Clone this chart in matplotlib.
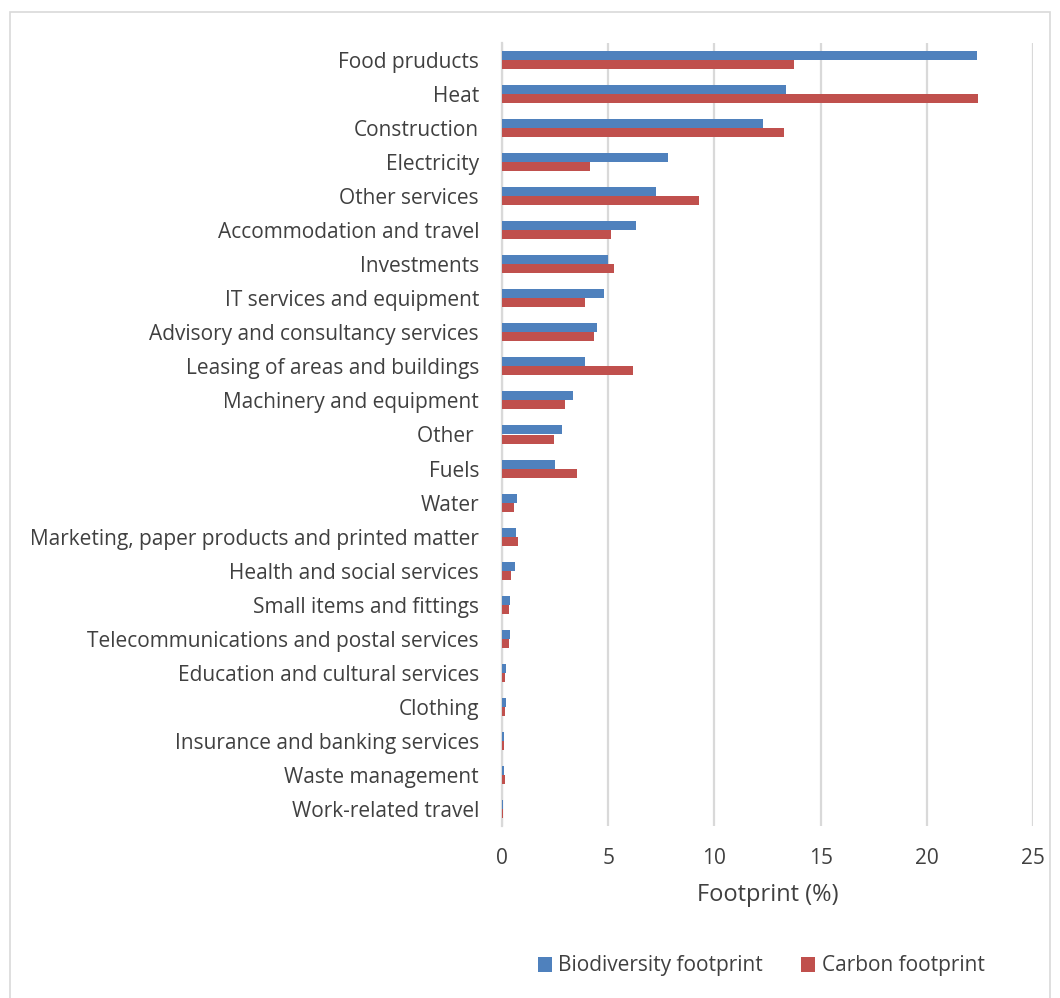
import matplotlib
matplotlib.use("Agg")
import matplotlib.pyplot as plt
from matplotlib.patches import Rectangle
import numpy as np

categories = ["Food pruducts", "Heat", "Construction", "Electricity", "Other services",
              "Accommodation and travel", "Investments", "IT services and equipment",
              "Advisory and consultancy services", "Leasing of areas and buildings",
              "Machinery and equipment", "Other ", "Fuels", "Water",
              "Marketing, paper products and printed matter", "Health and social services",
              "Small items and fittings", "Telecommunications and postal services",
              "Education and cultural services", "Clothing", "Insurance and banking services",
              "Waste management", "Work-related travel"]
biodiversity = [22.35, 13.39, 12.29, 7.83, 7.27, 6.30, 5.00, 4.79, 4.48, 3.93, 3.36, 2.81, 2.51,
                0.71, 0.68, 0.59, 0.40, 0.40, 0.19, 0.17, 0.11, 0.11, 0.04]
carbon = [13.76, 22.41, 13.30, 4.16, 9.28, 5.14, 5.27, 3.93, 4.31, 6.18, 2.97, 2.46, 3.55,
          0.55, 0.76, 0.44, 0.35, 0.32, 0.16, 0.13, 0.11, 0.14, 0.03]
xticks = [0, 5, 10, 15, 20, 25]

plt.rcParams['font.family'] = ['Open Sans', 'DejaVu Sans']
blue = '#4F81BD'
red = '#C0504D'
txt = '#404040'

fig = plt.figure(figsize=(10.6, 9.98), dpi=100)
ax = fig.add_axes([502/1060, 1 - 826/998, (1033-502)/1060, (826-43)/998])

n = len(categories)
y = np.arange(n)
h = 0.265
ax.barh(y - h/2, biodiversity, height=h, color=blue, label='Biodiversity footprint', zorder=3)
ax.barh(y + h/2, carbon, height=h, color=red, label='Carbon footprint', zorder=3)

ax.set_ylim(n - 0.5, -0.5)
ax.set_xlim(0, 25)
ax.set_xticks(xticks)
ax.set_yticks(y)
ax.set_yticklabels(categories, fontsize=15, color=txt)
ax.tick_params(axis='x', labelsize=15, colors=txt, length=0, pad=16)
ax.tick_params(axis='y', length=0, pad=16.5)
ax.grid(axis='x', color='#D9D9D9', linewidth=1.6, zorder=0)
for s in ['top', 'right', 'bottom']:
    ax.spines[s].set_visible(False)
ax.spines['left'].set_color('#D9D9D9')
ax.spines['left'].set_linewidth(1.6)
ax.set_xlabel('Footprint (%)', fontsize=17, color=txt, labelpad=10)

fig.legend(loc='center', bbox_to_anchor=(761/1060, 1 - 966/998), ncol=2, frameon=False,
           fontsize=15, handlelength=0.7, handleheight=0.7, columnspacing=1.8,
           handletextpad=0.3, labelcolor=txt)

fig.add_artist(Rectangle((10/1060, -0.01), 1040/1060, 1 - 12/998 + 0.01,
                         transform=fig.transFigure, fill=False, edgecolor='#D9D9D9', linewidth=1.2))

fig.savefig('out.png', dpi=100, facecolor='white')
